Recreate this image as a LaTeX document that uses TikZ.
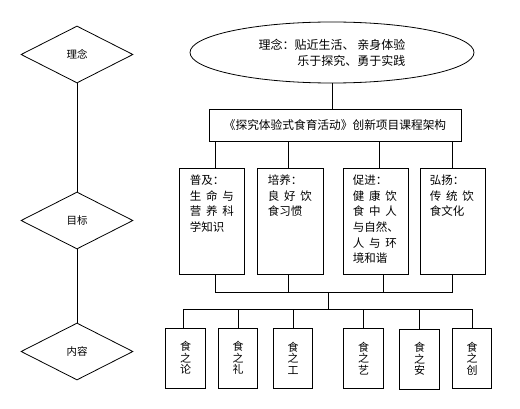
\documentclass[tikz,border=0pt]{standalone}
\usepackage{fontspec}
\setmainfont{Noto Sans CJK SC}
\usetikzlibrary{shapes.geometric}
\newcommand\jus[1]{\makebox[44pt][s]{#1}}
\begin{document}
\begin{tikzpicture}[x=1pt,y=-1pt,
  line/.style={draw=black,line width=0.8pt},
  dia/.style={diamond,draw=black,line width=0.8pt,minimum width=112pt,minimum height=57pt,inner sep=0pt,font=\fontsize{10.5}{12}\selectfont},
  bigbox/.style={draw=black,line width=0.9pt,minimum width=65pt,minimum height=106pt,inner sep=0pt},
  smallbox/.style={draw=black,line width=0.9pt,minimum width=39.5pt,minimum height=60pt,inner sep=0pt,align=center,font=\fontsize{11}{11.6}\selectfont},
  boxtext/.style={anchor=north west,inner sep=0pt,align=left,font=\fontsize{11.5}{15.7}\selectfont}]
\useasboundingbox (0,0) rectangle (520,409);
% left diamonds
\node[dia] (d1) at (77,54.5) {理念};
\node[dia] (d2) at (77,220.5) {目标};
\node[dia] (d3) at (77,351.5) {内容};
\draw[line] (d1.south) -- (d2.north);
\draw[line] (d2.south) -- (d3.north);
% ellipse
\node[ellipse,draw=black,line width=0.8pt,minimum width=284pt,minimum height=61pt,inner sep=0pt,align=right,font=\fontsize{12}{16}\selectfont] (ell) at (332,52.5) {理念：贴近生活、 亲身体验\\乐于探究、勇于实践};
% title box
\node[draw=black,line width=0.9pt,minimum width=252pt,minimum height=32pt,inner sep=0pt,font=\fontsize{11.7}{14}\selectfont] (title) at (335,125) {《探究体验式食育活动》创新项目课程架构};
\draw[line] (ell.south) -- (ell.south |- title.north);
% four boxes
\node[bigbox] (b1) at (211.5,221) {};
\node[bigbox,minimum width=66pt] (b2) at (290,221) {};
\node[bigbox] (b3) at (375.5,221) {};
\node[bigbox] (b4) at (452.5,221) {};
\node[boxtext] (t1) at ([xshift=11pt,yshift=-7pt]b1.north west) {普及：\\\jus{生\hfill 命\hfill 与}\\\jus{营\hfill 养\hfill 科}\\学知识};
\node[boxtext] (t2) at ([xshift=11pt,yshift=-7pt]b2.north west) {培养：\\\jus{良\hfill 好\hfill 饮}\\食习惯};
\node[boxtext] (t3) at ([xshift=10pt,yshift=-7pt]b3.north west) {促进：\\\jus{健\hfill 康\hfill 饮}\\\jus{食\hfill 中\hfill 人}\\与自然、\\\jus{人\hfill 与\hfill 环}\\境和谐};
\node[boxtext] (t4) at ([xshift=10pt,yshift=-7pt]b4.north west) {弘扬：\\\jus{传\hfill 统\hfill 饮}\\食文化};
\draw[line] ([xshift=3.5pt]b1.north |- title.south) -- ([xshift=3.5pt]b1.north);
\draw[line] ([xshift=-2pt]b2.north |- title.south) -- ([xshift=-2pt]b2.north);
\draw[line] ([xshift=3.5pt]b3.north |- title.south) -- ([xshift=3.5pt]b3.north);
\draw[line] (b4.north |- title.south) -- (b4.north);
% buses
\coordinate (j1) at (328,292);
\coordinate (j2) at (328,309);
\draw[line] ([xshift=3.5pt]b1.south) -- ([xshift=3.5pt]b1.south |- j1) -- (b4.south |- j1) -- (b4.south);
\draw[line] ([xshift=-2pt]b2.south) -- ([xshift=-2pt]b2.south |- j1);
\draw[line] ([xshift=7.5pt]b3.south) -- ([xshift=7.5pt]b3.south |- j1);
\draw[line] (j1) -- (j2);
% small boxes
\node[smallbox] (s1) at (185.5,358) {食\\之\\论};
\node[smallbox] (s2) at (238,358) {食\\之\\礼};
\node[smallbox] (s3) at (293,358) {食\\之\\工};
\node[smallbox] (s4) at (363.5,358.5) {食\\之\\艺};
\node[smallbox] (s5) at (419.5,359) {食\\之\\安};
\node[smallbox] (s6) at (472,358.5) {食\\之\\创};
\draw[line] ([xshift=-2.5pt]s1.north |- j2) -- (s6.north |- j2);
\draw[line] ([xshift=-2.5pt]s1.north |- j2) -- ([xshift=-2.5pt]s1.north);
\foreach \s in {s2,s3,s4,s5,s6}{\draw[line] (\s.north |- j2) -- (\s.north);}
\end{tikzpicture}
\end{document}
